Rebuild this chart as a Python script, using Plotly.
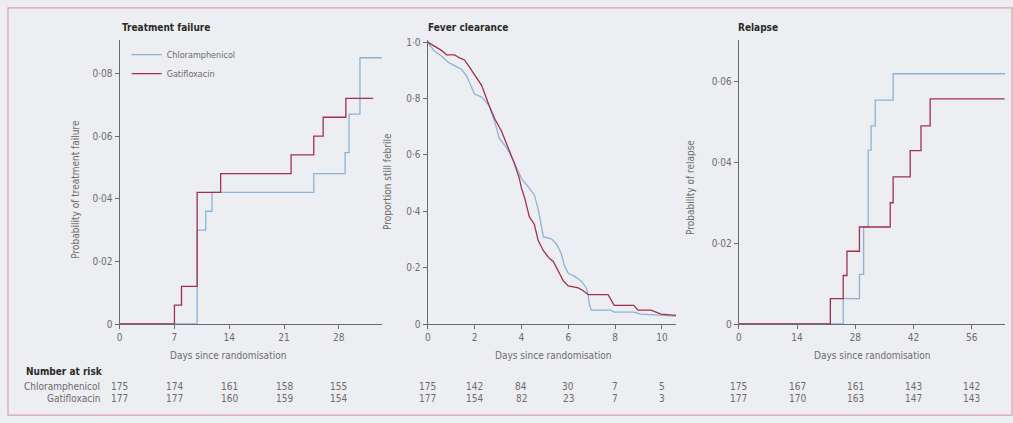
import plotly.graph_objects as go

# ---------------- data ----------------
# Treatment failure (cumulative probability, step curves)
tf_chl_days = [0, 9.9, 11.0, 11.8, 24.8, 28.8, 29.3, 30.7, 33.5]
tf_chl_prob = [0, 0.030, 0.036, 0.042, 0.048, 0.0547, 0.067, 0.085, 0.085]
tf_gat_days = [0, 7.0, 7.9, 9.9, 12.9, 21.9, 24.8, 26.0, 28.9, 32.4]
tf_gat_prob = [0, 0.006, 0.012, 0.042, 0.048, 0.054, 0.060, 0.066, 0.072, 0.072]

# Fever clearance (proportion still febrile)
fc_chl_days = [0, 0.26, 0.6, 0.9, 1.15, 1.45, 1.66, 1.87, 2.0, 2.3, 2.6, 2.85, 3.05,
               3.45, 3.7, 4.0, 4.3, 4.55, 4.72, 4.85, 4.94, 5.28, 5.49, 5.7, 5.83,
               6.0, 6.26, 6.55, 6.77, 6.85, 6.9, 6.98, 7.83, 7.96, 8.8, 9.1, 9.96, 10.6]
fc_chl_prop = [1.0, 0.97, 0.95, 0.927, 0.917, 0.903, 0.88, 0.84, 0.816, 0.805, 0.778,
               0.72, 0.66, 0.615, 0.57, 0.517, 0.486, 0.458, 0.406, 0.347, 0.309,
               0.302, 0.285, 0.25, 0.208, 0.18, 0.17, 0.153, 0.128, 0.104, 0.069,
               0.049, 0.049, 0.042, 0.042, 0.035, 0.031, 0.028]
fc_gat_days = [0, 0.26, 0.6, 0.8, 1.15, 1.36, 1.57, 1.74, 2.0, 2.3, 2.6, 2.85, 3.15,
               3.45, 3.7, 3.91, 4.0, 4.13, 4.34, 4.55, 4.72, 4.94, 5.19, 5.36, 5.57,
               5.79, 6.0, 6.43, 6.64, 6.85, 7.7, 7.83, 7.96, 8.8, 8.98, 9.53, 9.96, 10.6]
fc_gat_prop = [1.0, 0.986, 0.97, 0.955, 0.955, 0.944, 0.937, 0.917, 0.885, 0.847,
               0.78, 0.73, 0.684, 0.62, 0.57, 0.517, 0.483, 0.45, 0.38, 0.354, 0.295,
               0.26, 0.233, 0.222, 0.19, 0.153, 0.135, 0.128, 0.118, 0.104, 0.104,
               0.083, 0.066, 0.066, 0.049, 0.049, 0.035, 0.031]

# Relapse (cumulative probability, step curves)
rel_chl_days = [0, 25.1, 29.0, 30.0, 31.1, 31.8, 32.8, 37.1, 64.5]
rel_chl_prob = [0, 0.0063, 0.0123, 0.024, 0.043, 0.049, 0.0554, 0.0619, 0.0619]
rel_gat_days = [0, 22.0, 25.1, 26.0, 29.0, 36.4, 37.1, 41.2, 43.8, 46.0, 63.9]
rel_gat_prob = [0, 0.0063, 0.012, 0.018, 0.024, 0.030, 0.0364, 0.0429, 0.049, 0.0557, 0.0557]

# Number at risk
risk_tf_days = [0, 7, 14, 21, 28]
risk_tf_chl = [175, 174, 161, 158, 155]
risk_tf_gat = [177, 177, 160, 159, 154]
risk_fc_days = [0, 2, 4, 6, 8, 10]
risk_fc_chl = [175, 142, 84, 30, 7, 5]
risk_fc_gat = [177, 154, 82, 23, 7, 3]
risk_rel_days = [0, 14, 28, 42, 56]
risk_rel_chl = [175, 167, 161, 143, 142]
risk_rel_gat = [177, 170, 163, 147, 143]

# tick labels
tf_yticks = [0, 0.02, 0.04, 0.06, 0.08]
tf_ylabels = ["0", "0·02", "0·04", "0·06", "0·08"]
fc_yticks = [0, 0.2, 0.4, 0.6, 0.8, 1.0]
fc_ylabels = ["0", "0·2", "0·4", "0·6", "0·8", "1·0"]
rel_yticks = [0, 0.02, 0.04, 0.06]
rel_ylabels = ["0", "0·02", "0·04", "0·06"]

# ---------------- style ----------------
W, H = 1013, 423
BLUE = "#8cb2d8"
RED = "#a3304c"
AX = "#6a6a6a"
TXT = "#6c6c6c"
FONT = "Liberation Sans Narrow, DejaVu Sans Condensed, Open Sans, sans-serif"
BG = "#eceef1"

def px(x):
    return x / W

def py(y):
    return 1 - y / H

fig = go.Figure()

fig.add_trace(go.Scatter(x=tf_chl_days, y=tf_chl_prob, mode="lines", line=dict(color=BLUE, width=1.3, shape="hv"),
                         name="Chloramphenicol", xaxis="x", yaxis="y"))
fig.add_trace(go.Scatter(x=tf_gat_days, y=tf_gat_prob, mode="lines", line=dict(color=RED, width=1.3, shape="hv"),
                         name="Gatifloxacin", xaxis="x", yaxis="y"))
fig.add_trace(go.Scatter(x=fc_chl_days, y=fc_chl_prop, mode="lines", line=dict(color=BLUE, width=1.3),
                         name="Chloramphenicol", xaxis="x2", yaxis="y2", showlegend=False))
fig.add_trace(go.Scatter(x=fc_gat_days, y=fc_gat_prop, mode="lines", line=dict(color=RED, width=1.3),
                         name="Gatifloxacin", xaxis="x2", yaxis="y2", showlegend=False))
fig.add_trace(go.Scatter(x=rel_chl_days, y=rel_chl_prob, mode="lines", line=dict(color=BLUE, width=1.3, shape="hv"),
                         name="Chloramphenicol", xaxis="x3", yaxis="y3", showlegend=False))
fig.add_trace(go.Scatter(x=rel_gat_days, y=rel_gat_prob, mode="lines", line=dict(color=RED, width=1.3, shape="hv"),
                         name="Gatifloxacin", xaxis="x3", yaxis="y3", showlegend=False))

ydom = [py(328), py(38)]
axis_common = dict(showgrid=False, zeroline=False, showline=True, linecolor=AX, linewidth=1.3,
                   ticks="outside", ticklen=4, tickcolor=AX, tickfont=dict(family=FONT, size=10, color=TXT))

fig.update_layout(
    width=W, height=H,
    margin=dict(l=0, r=0, t=0, b=0),
    paper_bgcolor=BG, plot_bgcolor=BG,
    font=dict(family=FONT, color=TXT),
    showlegend=True,
    legend=dict(x=px(124), y=py(38), xanchor="left", yanchor="top", bgcolor="rgba(0,0,0,0)",
                font=dict(family=FONT, size=9, color=TXT), tracegroupgap=0, itemwidth=30),
    xaxis=dict(domain=[px(117), px(380)], range=[0, 33.5], tickvals=risk_tf_days, anchor="y", **axis_common),
    yaxis=dict(domain=ydom, range=[0, 0.0906], tickvals=tf_yticks, ticktext=tf_ylabels, anchor="x", **axis_common),
    xaxis2=dict(domain=[px(426), px(675)], range=[0, 10.6], tickvals=risk_fc_days, anchor="y2", **axis_common),
    yaxis2=dict(domain=ydom, range=[0, 1.007], tickvals=fc_yticks, ticktext=fc_ylabels, anchor="x2", **axis_common),
    xaxis3=dict(domain=[px(738), px(1005)], range=[0, 64], tickvals=risk_rel_days, anchor="y3", **axis_common),
    yaxis3=dict(domain=ydom, range=[0, 0.0702], tickvals=rel_yticks, ticktext=rel_ylabels, anchor="x3", **axis_common),
)

ann = []
# panel titles
for xp, t in [(117, "Treatment failure"), (424, "Fever clearance"), (735, "Relapse")]:
    ann.append(dict(x=px(xp), y=py(25), xref="paper", yref="paper", text="<b>%s</b>" % t, showarrow=False,
                    xanchor="left", yanchor="middle", font=dict(family=FONT, size=10, color="#2a2a2a")))
# x axis titles
for xp in [226, 552, 872]:
    ann.append(dict(x=px(xp), y=py(360), xref="paper", yref="paper", text="Days since randomisation",
                    showarrow=False, xanchor="center", yanchor="middle", font=dict(family=FONT, size=10, color=TXT)))
# y axis titles
for xp, yp, t in [(73, 190, "Probability of treatment failure"), (385, 182, "Proportion still febrile"),
                  (689, 188, "Probability of relapse")]:
    ann.append(dict(x=px(xp), y=py(yp), xref="paper", yref="paper", text=t, textangle=-90, showarrow=False,
                    xanchor="center", yanchor="middle", font=dict(family=FONT, size=10, color=TXT)))
# number at risk
ann.append(dict(x=px(21), y=py(376), xref="paper", yref="paper", text="<b>Number at risk</b>", showarrow=False,
                xanchor="left", yanchor="middle", font=dict(family=FONT, size=10, color="#2a2a2a")))
for yp, t in [(392, "Chloramphenicol"), (404, "Gatifloxacin")]:
    ann.append(dict(x=px(99), y=py(yp), xref="paper", yref="paper", text=t, showarrow=False,
                    xanchor="right", yanchor="middle", font=dict(family=FONT, size=10, color=TXT)))
for xr, days, chl, gat in [("x", risk_tf_days, risk_tf_chl, risk_tf_gat),
                           ("x2", risk_fc_days, risk_fc_chl, risk_fc_gat),
                           ("x3", risk_rel_days, risk_rel_chl, risk_rel_gat)]:
    for d, c, g in zip(days, chl, gat):
        ann.append(dict(x=d, y=py(392), xref=xr, yref="paper", text=str(c), showarrow=False,
                        xanchor="center", yanchor="middle", font=dict(family=FONT, size=10, color=TXT)))
        ann.append(dict(x=d, y=py(404), xref=xr, yref="paper", text=str(g), showarrow=False,
                        xanchor="center", yanchor="middle", font=dict(family=FONT, size=10, color=TXT)))
fig.update_layout(annotations=ann)

# figure frame
fig.add_shape(type="rect", xref="paper", yref="paper", x0=px(5), y0=py(421), x1=px(1012), y1=py(5),
              line=dict(color="#d6a3ad", width=1.2), fillcolor="rgba(0,0,0,0)", layer="below")

fig.write_html("out.html", config={"displayModeBar": False},
               post_script="document.body.style.margin='0';document.body.style.overflow='hidden';")
